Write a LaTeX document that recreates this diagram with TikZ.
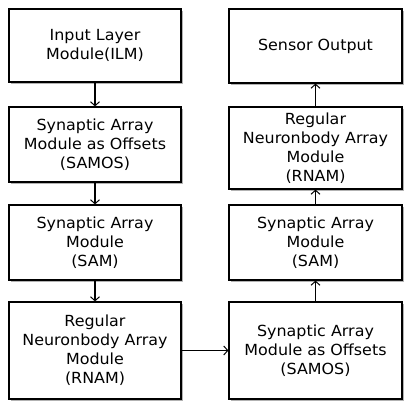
\documentclass[tikz,border=0pt]{standalone}
\usepackage{fontspec}
\setmainfont[FakeStretch=1.04]{DejaVu Sans}
\usetikzlibrary{arrows.meta,shadows}
\begin{document}
\begin{tikzpicture}[x=1pt,y=-1pt,
  mod/.style={draw=black, line width=1.2pt, fill=white, rectangle, inner sep=0pt,
    align=center, font=\fontsize{15.3}{19}\selectfont,
    drop shadow={shadow xshift=1.6pt, shadow yshift=-1.6pt, fill=black!30, opacity=1}},
  conn/.style={line width=1.1pt, -{Straight Barb[length=4pt,width=9pt,line width=1pt]}}
]
\useasboundingbox[fill=white] (0,0) rectangle (404,401);
% left column
\node[mod, minimum width=172pt, minimum height=73pt] (ilm) at (95,45.5) {Input Layer\\Module(ILM)};
\node[mod, minimum width=172pt, minimum height=75pt] (samosl) at (95,144.5) {Synaptic Array\\Module as Offsets\\(SAMOS)};
\node[mod, minimum width=172pt, minimum height=75pt] (saml) at (95,242.5) {Synaptic Array\\Module\\(SAM)};
\node[mod, minimum width=172pt, minimum height=97pt] (rnaml) at (95,350.5) {Regular\\Neuronbody Array\\Module\\(RNAM)};
% right column
\node[mod, minimum width=173pt, minimum height=74pt] (out) at (315.5,46) {Sensor Output};
\node[mod, minimum width=173pt, minimum height=82pt] (rnamr) at (315.5,148) {Regular\\Neuronbody Array\\Module\\(RNAM)};
\node[mod, minimum width=173pt, minimum height=75pt] (samr) at (315.5,242.5) {Synaptic Array\\Module\\(SAM)};
\node[mod, minimum width=173pt, minimum height=97pt] (samosr) at (315.5,350.5) {Synaptic Array\\Module as Offsets\\(SAMOS)};
% connectors
\draw[conn] (ilm) -- (samosl);
\draw[conn] (samosl) -- (saml);
\draw[conn] (saml) -- (rnaml);
\draw[conn] (rnaml) -- (samosr);
\draw[conn] (samosr) -- (samr);
\draw[conn] (samr) -- (rnamr);
\draw[conn] (rnamr) -- (out);
\end{tikzpicture}
\end{document}
